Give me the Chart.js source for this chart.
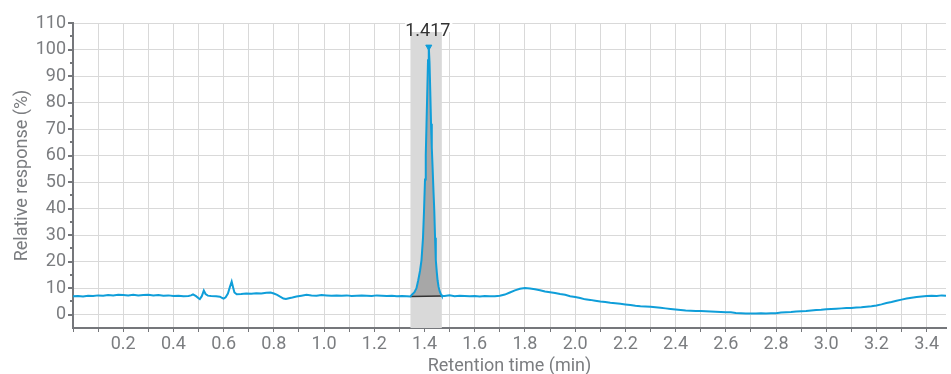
<!DOCTYPE html>
<html>
<head>
<meta charset="utf-8">
<title>Chromatogram</title>
<script src="https://cdn.jsdelivr.net/npm/chart.js@4.4.1/dist/chart.umd.min.js"></script>
<style>
  html, body { margin: 0; padding: 0; background: #fff; }
  #wrap { position: relative; width: 951px; height: 374px; }
</style>
</head>
<body>
<div id="wrap"><canvas id="chromChart"></canvas></div>
<script>
// Retention time (min) and relative response (%)
const retentionTimes = [
  0.00, 0.02, 0.04, 0.06, 0.08, 0.10, 0.12, 0.14, 0.16, 0.18, 0.20, 0.22, 0.24, 0.26, 0.28, 0.30,
  0.32, 0.34, 0.36, 0.38, 0.40, 0.42, 0.44, 0.46, 0.47, 0.478, 0.49, 0.50, 0.505, 0.513, 0.521, 0.528,
  0.537, 0.55, 0.57, 0.585, 0.595, 0.60, 0.608, 0.617, 0.625, 0.632, 0.638, 0.643, 0.652, 0.67, 0.69,
  0.71, 0.73, 0.75, 0.77, 0.787, 0.80, 0.813, 0.825, 0.838, 0.848, 0.86, 0.874, 0.89, 0.91, 0.93,
  0.95, 0.97, 0.99, 1.01, 1.03, 1.05, 1.07, 1.09, 1.11, 1.13, 1.15, 1.17, 1.19, 1.21, 1.23, 1.25,
  1.27, 1.29, 1.31, 1.33, 1.344,
  1.350, 1.360, 1.368, 1.375, 1.382, 1.388, 1.394, 1.398, 1.402, 1.405, 1.408, 1.411, 1.414, 1.417,
  1.420, 1.423, 1.426, 1.429, 1.432, 1.436, 1.439, 1.442, 1.445, 1.449, 1.452, 1.456, 1.461, 1.466, 1.469,
  1.48, 1.50, 1.52, 1.54, 1.56, 1.58, 1.60, 1.62, 1.64, 1.66, 1.68, 1.70, 1.72, 1.74, 1.76, 1.78,
  1.80, 1.82, 1.84, 1.86, 1.88, 1.90, 1.92, 1.94, 1.96, 1.98, 2.00, 2.02, 2.04, 2.06, 2.08, 2.10,
  2.12, 2.14, 2.16, 2.18, 2.20, 2.22, 2.24, 2.26, 2.28, 2.30, 2.32, 2.34, 2.36, 2.38, 2.40, 2.42,
  2.44, 2.46, 2.48, 2.50, 2.52, 2.54, 2.56, 2.58, 2.60, 2.62, 2.64, 2.66, 2.68, 2.70, 2.72, 2.74,
  2.76, 2.78, 2.80, 2.82, 2.84, 2.86, 2.88, 2.90, 2.92, 2.94, 2.96, 2.98, 3.00, 3.02, 3.04, 3.06,
  3.08, 3.10, 3.12, 3.14, 3.16, 3.18, 3.20, 3.22, 3.24, 3.26, 3.28, 3.30, 3.32, 3.34, 3.36, 3.38,
  3.40, 3.42, 3.44, 3.46, 3.477
];
const responses = [
  7.0, 7.1, 6.9, 7.2, 7.1, 7.3, 7.2, 7.4, 7.3, 7.5, 7.4, 7.3, 7.5, 7.3, 7.4, 7.5,
  7.3, 7.4, 7.2, 7.3, 7.1, 7.2, 7.0, 7.1, 7.3, 7.7, 7.0, 6.2, 5.9, 7.0, 9.1, 7.8,
  7.2, 7.1, 7.0, 6.8, 6.3, 6.1, 6.6, 8.0, 10.5, 12.5, 10.2, 8.4, 7.7, 7.8, 8.0,
  7.9, 8.1, 8.0, 8.3, 8.4, 8.0, 7.5, 6.8, 6.1, 5.9, 6.2, 6.5, 6.9, 7.2, 7.5,
  7.3, 7.2, 7.4, 7.3, 7.2, 7.3, 7.2, 7.3, 7.1, 7.2, 7.3, 7.2, 7.1, 7.3, 7.2, 7.1,
  7.2, 7.0, 7.1, 7.0, 6.9,
  7.6, 8.5, 10.0, 13.0, 16.5, 20.6, 29.0, 39.0, 51.0, 60.0, 72.0, 84.0, 96.0, 101.0,
  95.0, 84.0, 72.0, 63.0, 56.0, 46.0, 39.0, 29.0, 20.6, 16.0, 13.0, 10.5, 8.7, 7.6, 7.1,
  7.1, 7.3, 7.0, 7.2, 7.1, 7.0, 7.1, 6.9, 7.1, 7.0, 7.0, 7.2, 7.6, 8.4, 9.2, 9.8,
  10.1, 9.9, 9.6, 9.2, 8.8, 8.5, 8.2, 7.8, 7.5, 7.0, 6.7, 6.3, 5.8, 5.6, 5.3, 5.0,
  4.8, 4.5, 4.3, 4.1, 3.9, 3.7, 3.4, 3.2, 3.1, 3.0, 2.8, 2.6, 2.4, 2.2, 2.0, 1.8,
  1.6, 1.5, 1.4, 1.4, 1.3, 1.2, 1.1, 1.0, 0.9, 0.9, 0.7, 0.6, 0.5, 0.5, 0.5, 0.6,
  0.5, 0.6, 0.6, 0.8, 0.9, 1.0, 1.2, 1.3, 1.4, 1.6, 1.8, 1.9, 2.1, 2.2, 2.3, 2.4,
  2.5, 2.5, 2.7, 2.8, 3.0, 3.2, 3.5, 3.9, 4.4, 4.8, 5.3, 5.7, 6.1, 6.4, 6.7, 6.9,
  7.1, 7.2, 7.1, 7.3, 7.2
];

// Integrated peak: window, baseline ends, apex
const peakWindow = [1.344, 1.469];
const peakBaseline = [6.9, 7.1];
const apexTime = 1.417;
const apexResponse = 101;
const apexLabel = '1.417';

const traceColor = '#0f9ed9';
const axisColor = '#75777b';
const gridColor = '#d9d9d9';
const labelColor = '#7b7d80';
const fontFamily = 'Roboto, "Noto Sans", sans-serif';

const trace = retentionTimes.map((t, i) => ({ x: t, y: responses[i] }));
const peakArea = trace.filter(p => p.x >= peakWindow[0] && p.x <= peakWindow[1]);

// grey window behind the peak, and the apex label on top
const peakBand = {
    id: 'peakBand',
    beforeDatasetsDraw(chart) {
        const { ctx, chartArea, scales: { x } } = chart;
        const left = x.getPixelForValue(peakWindow[0]);
        const right = x.getPixelForValue(peakWindow[1]);
        ctx.save();
        ctx.fillStyle = gridColor;
        ctx.fillRect(left, chartArea.top, right - left, chartArea.bottom - chartArea.top);
        ctx.restore();
    },
    afterDatasetsDraw(chart) {
        const { ctx, chartArea, scales: { x } } = chart;
        const cx = x.getPixelForValue(apexTime);
        ctx.save();
        ctx.font = '18px ' + fontFamily;
        const w = ctx.measureText(apexLabel).width;
        ctx.fillStyle = '#fff';
        ctx.fillRect(cx - w / 2 - 1, chartArea.top - 6, w + 2, 15);
        ctx.fillStyle = '#333';
        ctx.textAlign = 'center';
        ctx.textBaseline = 'alphabetic';
        ctx.fillText(apexLabel, cx - 1, chartArea.top + 13);
        ctx.restore();
    }
};

// major / minor tick marks on the response axis
const yTickMarks = {
    id: 'yTickMarks',
    afterDraw(chart) {
        const { ctx, chartArea, scales: { y } } = chart;
        ctx.save();
        ctx.strokeStyle = axisColor;
        ctx.lineWidth = 2;
        y.ticks.forEach(t => {
            if (t.value < 0) return;
            const py = Math.round(y.getPixelForValue(t.value));
            const len = t.value % 10 === 0 ? 5 : 3;
            ctx.beginPath();
            ctx.moveTo(chartArea.left - len, py);
            ctx.lineTo(chartArea.left, py);
            ctx.stroke();
        });
        ctx.restore();
    }
};

new Chart(document.getElementById('chromChart'), {
    type: 'line',
    data: {
        datasets: [
            {
                label: 'Trace',
                data: trace,
                borderColor: traceColor,
                borderWidth: 2,
                pointRadius: 0,
                tension: 0,
                fill: false,
                order: 1
            },
            {
                label: 'Baseline',
                data: [
                    { x: peakWindow[0], y: peakBaseline[0] },
                    { x: peakWindow[1], y: peakBaseline[1] }
                ],
                borderColor: '#333333',
                borderWidth: 1.5,
                pointRadius: 0,
                fill: false,
                order: 2
            },
            {
                label: 'Peak area',
                data: peakArea,
                borderWidth: 0,
                borderColor: 'rgba(0,0,0,0)',
                backgroundColor: '#a7a7a7',
                pointRadius: 0,
                fill: { value: 7 },
                order: 3
            },
            {
                label: 'Apex',
                data: [{ x: apexTime, y: apexResponse }],
                showLine: false,
                pointStyle: 'triangle',
                rotation: 180,
                pointRadius: 3.5,
                backgroundColor: traceColor,
                borderColor: traceColor,
                order: 0
            }
        ]
    },
    options: {
        responsive: true,
        maintainAspectRatio: false,
        animation: false,
        layout: { padding: { top: 23, right: 0, bottom: 0, left: 0 } },
        plugins: {
            legend: { display: false },
            tooltip: { enabled: false }
        },
        scales: {
            x: {
                type: 'linear',
                min: 0,
                max: 3.477,
                border: { color: axisColor, width: 2 },
                grid: { color: gridColor, lineWidth: 1, tickLength: 4, tickColor: axisColor },
                ticks: {
                    stepSize: 0.1,
                    maxTicksLimit: 50,
                    includeBounds: false,
                    autoSkip: false,
                    maxRotation: 0,
                    padding: 2,
                    color: labelColor,
                    font: { family: fontFamily, size: 18 },
                    callback: v => {
                        const tenths = Math.round(v * 10);
                        return tenths > 0 && tenths % 2 === 0 ? (tenths / 10).toFixed(1) : '';
                    }
                },
                title: {
                    display: true,
                    text: 'Retention time (min)',
                    color: labelColor,
                    font: { family: fontFamily, size: 18 },
                    padding: { top: 0, bottom: -3 }
                },
                afterFit: s => { s.height = 46; }
            },
            y: {
                min: -5,
                max: 110,
                border: { color: axisColor, width: 2 },
                grid: {
                    drawTicks: false,
                    lineWidth: 1,
                    color: c => (c.tick && c.tick.value >= 0 && c.tick.value % 10 === 0) ? gridColor : 'rgba(0,0,0,0)'
                },
                ticks: {
                    stepSize: 5,
                    maxTicksLimit: 50,
                    autoSkip: false,
                    padding: 7,
                    color: labelColor,
                    font: { family: fontFamily, size: 18 },
                    callback: v => (v >= 0 && v % 10 === 0) ? v : ''
                },
                title: {
                    display: true,
                    text: 'Relative response (%)',
                    color: labelColor,
                    font: { family: fontFamily, size: 18 },
                    padding: { top: 12, bottom: 0 }
                },
                afterFit: s => { s.width = 73; }
            }
        }
    },
    plugins: [peakBand, yTickMarks]
});
</script>
</body>
</html>
